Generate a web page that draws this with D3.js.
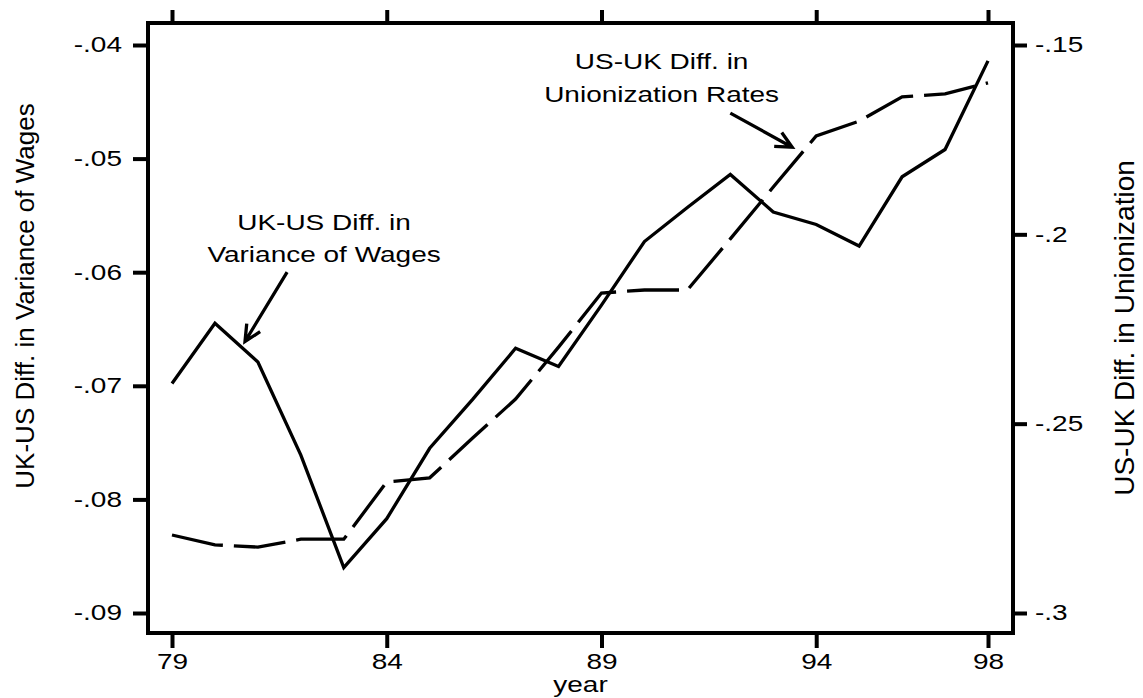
<!DOCTYPE html>
<html>
<head>
<meta charset="utf-8">
<script src="https://cdn.jsdelivr.net/npm/d3@7/dist/d3.min.js"></script>
<style>
  body { margin: 0; background: #fff; }
  svg text { font-family: "Liberation Sans", Arial, sans-serif; fill: #000; }
</style>
</head>
<body>
<svg id="chart" width="1143" height="698"></svg>
<script>
/*
Data
*/
const years = [79, 80, 81, 82, 83, 84, 85, 86, 87, 88, 89, 90, 91, 92, 93, 94, 95, 96, 97, 98];
// UK-US difference in variance of wages (left axis, solid)
const wageDiff = [-.0698, -.0645, -.0679, -.0761, -.0860, -.0817, -.0755, -.0712, -.0667, -.0683,
                  -.0629, -.0573, -.0543, -.0514, -.0547, -.0558, -.0577, -.0516, -.0492, -.0414];
// US-UK difference in unionization (right axis, dashed)
const unionDiff = [-.2794, -.2820, -.2826, -.2805, -.2805, -.2654, -.2643, -.2538, -.2435, -.2298,
                   -.2155, -.2147, -.2147, -.2012, -.1875, -.1740, -.1701, -.1637, -.1629, -.1600];

const xTicks = [79, 84, 89, 94, 98];
const leftTicks = [-.04, -.05, -.06, -.07, -.08, -.09];
const rightTicks = [-.15, -.2, -.25, -.3];

const xTitle = "year";
const leftTitle = "UK-US Diff. in Variance of Wages";
const rightTitle = "US-UK Diff. in Unionization";

// annotations: label lines + arrow (in data units, left axis)
const notes = [
    { lines: ["UK-US Diff. in", "Variance of Wages"], x: 82.54, y: [-.0563, -.0591],
      from: [81.68, -.0600], to: [80.70, -.0661] },
    { lines: ["US-UK Diff. in", "Unionization Rates"], x: 90.4, y: [-.0421, -.0450],
      from: [92.0, -.0460], to: [93.44, -.0490] }
];

/*
Layout
*/
const frame = { left: 148, right: 1013, top: 23, bottom: 633 };
const fontSize = 28;
const squash = 0.78;   // horizontal text in the picture is wider than tall
const fmt = v => String(v).replace("0.", ".");

const svg = d3.select("#chart");

const x = d3.scaleLinear().domain([79, 98]).range([172, 988]);
const yL = d3.scaleLinear().domain([-.09, -.04]).range([613, 45]);
const yR = d3.scaleLinear().domain([-.3, -.15]).range([613, 45]);

function styleAxis(g) {
    g.select(".domain").remove();
    g.selectAll(".tick line").attr("stroke", "#000").attr("stroke-width", 4);
    g.selectAll(".tick text")
        .attr("font-size", fontSize)
        .attr("fill", "#000")
        .attr("transform", `scale(1,${squash})`);
}

svg.append("g")
    .attr("transform", `translate(${frame.left},0)`)
    .call(d3.axisLeft(yL).tickValues(leftTicks).tickSize(15).tickPadding(11).tickFormat(fmt))
    .call(styleAxis);

svg.append("g")
    .attr("transform", `translate(${frame.right},0)`)
    .call(d3.axisRight(yR).tickValues(rightTicks).tickSize(14).tickPadding(8).tickFormat(fmt))
    .call(styleAxis);

svg.append("g")
    .attr("transform", `translate(0,${frame.bottom})`)
    .call(d3.axisBottom(x).tickValues(xTicks).tickSize(15).tickPadding(11).tickFormat(d => d))
    .call(styleAxis);

svg.append("g")
    .attr("transform", `translate(0,${frame.top})`)
    .call(d3.axisTop(x).tickValues(xTicks).tickSize(13).tickFormat(""))
    .call(styleAxis);

// plot frame
svg.append("rect")
    .attr("x", frame.left).attr("y", frame.top)
    .attr("width", frame.right - frame.left).attr("height", frame.bottom - frame.top)
    .attr("fill", "none").attr("stroke", "#000").attr("stroke-width", 4);

/*
Series
*/
const wageLine = d3.line().x((d, i) => x(years[i])).y(d => yL(d));
const unionLine = d3.line().x((d, i) => x(years[i])).y(d => yR(d));

svg.append("path")
    .datum(wageDiff)
    .attr("d", wageLine)
    .attr("fill", "none").attr("stroke", "#000").attr("stroke-width", 3.3);

svg.append("path")
    .datum(unionDiff)
    .attr("d", unionLine)
    .attr("fill", "none").attr("stroke", "#000").attr("stroke-width", 3.3)
    .attr("stroke-dasharray", "52,11");

/*
Titles
*/
function addText(px, py, str, rot, size) {
    // rotated titles keep their full length, flat text is squashed
    const tf = rot ? ` rotate(${rot})` : ` scale(1,${squash})`;
    svg.append("text")
        .attr("transform", `translate(${px},${py})` + tf)
        .attr("text-anchor", "middle")
        .attr("font-size", size || fontSize)
        .text(str);
}

const midY = (frame.top + frame.bottom) / 2;
addText((frame.left + frame.right) / 2, 692, xTitle);
addText(34, 296, leftTitle, -90, 26);
addText(1134, midY, rightTitle, -90);

/*
Annotations with arrows
*/
notes.forEach(n => {
    n.lines.forEach((s, i) => addText(x(n.x), yL(n.y[i]), s));
    const x0 = x(n.from[0]), y0 = yL(n.from[1]);
    const x1 = x(n.to[0]), y1 = yL(n.to[1]);
    const a = Math.atan2(y1 - y0, x1 - x0);
    const head = 18, spread = 0.45;
    const p = d3.path();
    p.moveTo(x0, y0); p.lineTo(x1, y1);
    p.moveTo(x1 - head * Math.cos(a - spread), y1 - head * Math.sin(a - spread));
    p.lineTo(x1, y1);
    p.lineTo(x1 - head * Math.cos(a + spread), y1 - head * Math.sin(a + spread));
    svg.append("path")
        .attr("d", p.toString())
        .attr("fill", "none").attr("stroke", "#000").attr("stroke-width", 3.3);
});
</script>
</body>
</html>
